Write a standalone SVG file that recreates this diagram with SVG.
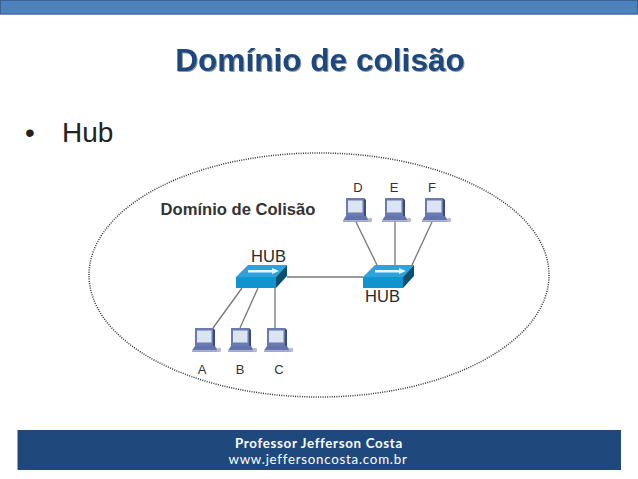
<svg xmlns="http://www.w3.org/2000/svg" width="638" height="479" viewBox="0 0 638 479">
<style>
.sans{font-family:"Liberation Sans",Arial,sans-serif}
.lbl{font-size:13px;fill:#333;text-anchor:middle}
.hublbl{font-size:16.500px;fill:#2a2a2a;text-anchor:middle}
.wire{stroke:#777;stroke-width:1.300;fill:none}
.foot{font-family:Lato,"Noto Sans",sans-serif;fill:#fff;text-anchor:middle;font-size:13.300px}
</style>
<defs>
<filter id="sh" x="-5%" y="-10%" width="110%" height="130%"><feDropShadow dx="1" dy="1" stdDeviation="0.700" flood-color="#000" flood-opacity="0.400"/></filter>
<g id="pc">
<path d="M-10,-15 L8,-15 L8,3 L-10,3 Z" fill="#6a7bb0"/>
<path d="M8,-15 L10,-13 L10,3 L8,3 Z" fill="#3b4a80"/>
<rect x="-8" y="-12.500" width="14.500" height="12" fill="#dbe4f3"/>
<path d="M-10,3 L10,3 L13,7.500 L-13,7.500 Z" fill="#6374ac"/>
<path d="M-13,7.500 L13,7.500 L13,9 L-13,9 Z" fill="#a0a8c6"/>
<circle cx="14" cy="7" r="2.300" fill="#b7bcc9"/>
</g>
<g id="hub">
<path d="M0,12 L12,0 L51,0 L40,12 Z" fill="#2ba3dc"/>
<path d="M0,12 L40,12 L40,23 L0,23 Z" fill="#0f94cf"/>
<path d="M40,12 L51,0 L51,11 L40,23 Z" fill="#0b4f6e"/>
<path d="M12,5 L36,5 L36,3 L43,6 L36,9 L36,7.500 L12,7.500 Z" fill="#e8f6fc"/>
</g>
</defs>
<rect width="638" height="479" fill="#fff"/>
<rect id="topbar-edge" x="0" y="0" width="638" height="15" fill="#a9c3e2"/>
<rect id="topbar" x="0.500" y="0.500" width="637" height="13.500" fill="#4f81bd" stroke="#3a6496" stroke-width="1"/>
<text class="sans" x="320" y="71" font-size="31.600" font-weight="700" fill="#1f497d" text-anchor="middle" filter="url(#sh)">Domínio de colisão</text>
<text class="sans" font-size="28" fill="#222" y="142"><tspan x="25">•</tspan><tspan x="62">Hub</tspan></text>
<ellipse id="domain" cx="319" cy="275" rx="230" ry="122" fill="none" stroke="#333" stroke-width="1.500" stroke-dasharray="1 1.300"/>
<text class="sans" x="238" y="215" font-size="16.600" font-weight="700" fill="#333" text-anchor="middle">Domínio de Colisão</text>
<g id="connectors">
<line class="wire" x1="287" y1="277" x2="363" y2="277"/>
<line class="wire" x1="242" y1="288" x2="213" y2="328"/>
<line class="wire" x1="258" y1="288" x2="240" y2="328"/>
<line class="wire" x1="275" y1="288" x2="275" y2="328"/>
<line class="wire" x1="377" y1="265" x2="356" y2="222"/>
<line class="wire" x1="395" y1="265" x2="395" y2="222"/>
<line class="wire" x1="412" y1="265" x2="432" y2="222"/>
</g>
<g id="hub1"><use href="#hub" x="236" y="265"/><text class="sans hublbl" x="268.500" y="262">HUB</text></g>
<g id="hub2"><use href="#hub" x="363" y="265"/><text class="sans hublbl" x="382.500" y="302">HUB</text></g>
<g id="pcA"><use href="#pc" x="205" y="343"/><text class="sans lbl" x="202" y="374">A</text></g>
<g id="pcB"><use href="#pc" x="241" y="343"/><text class="sans lbl" x="240" y="374">B</text></g>
<g id="pcC"><use href="#pc" x="277" y="343"/><text class="sans lbl" x="279" y="374">C</text></g>
<g id="pcD"><use href="#pc" x="356" y="213"/><text class="sans lbl" x="358" y="192">D</text></g>
<g id="pcE"><use href="#pc" x="395" y="213"/><text class="sans lbl" x="394" y="192">E</text></g>
<g id="pcF"><use href="#pc" x="435" y="213"/><text class="sans lbl" x="432" y="192">F</text></g>
<rect id="footer" x="17.500" y="430" width="603.500" height="40" fill="#1f497d"/>
<text class="foot" x="319" y="447.500" font-weight="700" letter-spacing="0.680">Professor Jefferson Costa</text>
<text class="foot" x="318" y="464" letter-spacing="0.760">www.jeffersoncosta.com.br</text>
</svg>
